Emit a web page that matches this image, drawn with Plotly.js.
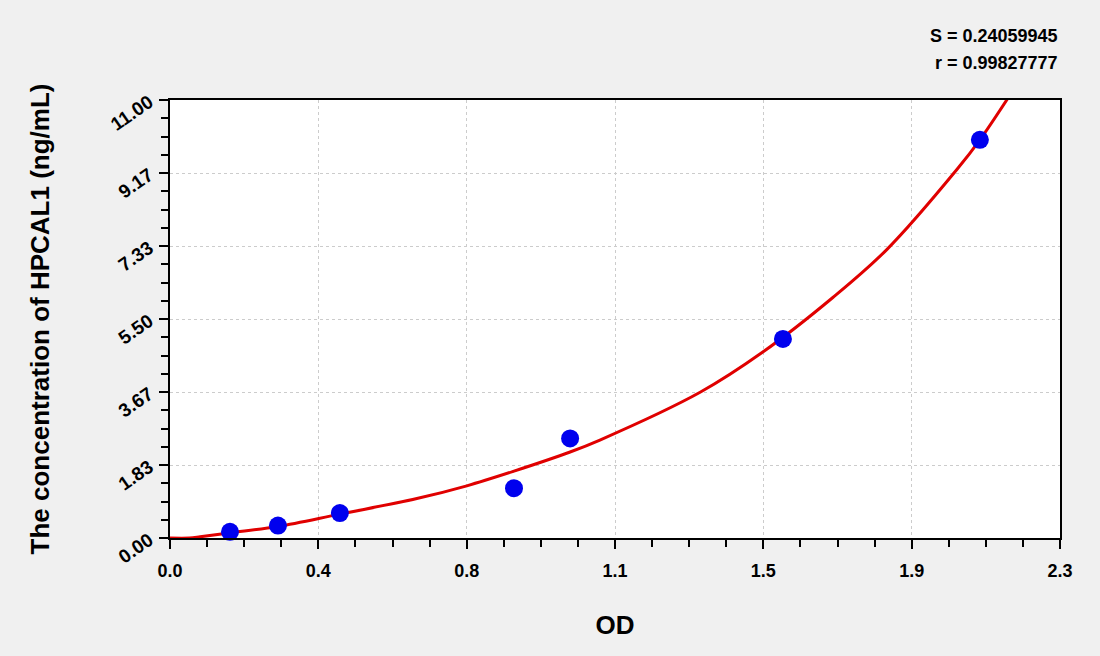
<!DOCTYPE html>
<html>
<head>
<meta charset="utf-8">
<script src="https://cdn.plot.ly/plotly-3.0.1.min.js"></script>
<style>
  html, body { margin: 0; padding: 0; background: #f0f0f0; }
  #graph { width: 1100px; height: 656px; }
</style>
</head>
<body>
<div id="graph"></div>
<script>
// standard points (OD vs concentration)
var odValues = [0.155, 0.279, 0.439, 0.889, 1.034, 1.584, 2.093];
var concValues = [0.156, 0.312, 0.625, 1.25, 2.5, 5, 10];

// fitted curve
var curveX = [0, 0.05, 0.078, 0.155, 0.279, 0.439, 0.638, 0.767, 0.889, 1.034, 1.111, 1.370, 1.532, 1.713, 1.853, 2.034, 2.093, 2.171];
var curveY = [0, 0.0, 0.03, 0.13, 0.29, 0.60, 0.99, 1.31, 1.68, 2.16, 2.46, 3.66, 4.67, 6.04, 7.25, 9.26, 10.0, 11.13];

var xTickVals = [0, 0.3833, 0.7667, 1.15, 1.5333, 1.9167, 2.3];
var xTickText = ['0.0', '0.4', '0.8', '1.1', '1.5', '1.9', '2.3'];
var yTickVals = [0, 1.8333, 3.6667, 5.5, 7.3333, 9.1667, 11];
var yTickText = ['0.00', '1.83', '3.67', '5.50', '7.33', '9.17', '11.00'];

var statS = 'S = 0.24059945';
var statR = 'r = 0.99827777';

var fontFam = 'Arial, "Liberation Sans", sans-serif';

var curve = {
    x: curveX,
    y: curveY,
    type: 'scatter',
    mode: 'lines',
    line: { color: '#e00000', width: 3, shape: 'spline', smoothing: 1 },
    hoverinfo: 'skip'
};
var points = {
    x: odValues,
    y: concValues,
    type: 'scatter',
    mode: 'markers',
    marker: { color: '#0000ee', size: 18 },
    cliponaxis: false
};

var axisCommon = {
    showline: true,
    linecolor: '#000000',
    linewidth: 2,
    mirror: true,
    ticks: 'outside',
    ticklen: 9,
    tickwidth: 2,
    tickcolor: '#000000',
    showgrid: true,
    gridcolor: '#cccccc',
    gridwidth: 1,
    griddash: 'dot',
    zeroline: false,
    tickmode: 'array'
};

var layout = {
    width: 1100,
    height: 656,
    margin: { l: 170, r: 40, t: 100, b: 118 },
    paper_bgcolor: '#f0f0f0',
    plot_bgcolor: '#ffffff',
    showlegend: false,
    font: { family: fontFam, color: '#000000' },
    xaxis: Object.assign({}, axisCommon, {
        range: [0, 2.3],
        tickvals: xTickVals,
        ticktext: xTickText,
        tickfont: { size: 18, weight: 'bold' },
        ticklabelstandoff: 6,
        minor: { tickmode: 'linear', tick0: 0, dtick: 2.3 / 24, ticks: 'outside', ticklen: 7, tickwidth: 2, tickcolor: '#000000', showgrid: false },
        title: { text: 'OD', font: { size: 26, weight: 'bold' }, standoff: 36 }
    }),
    yaxis: Object.assign({}, axisCommon, {
        range: [0, 11],
        tickvals: yTickVals,
        ticktext: yTickText,
        tickangle: -35,
        tickfont: { size: 19, weight: 'bold' },
        ticklabelstandoff: 6,
        minor: { tickmode: 'linear', tick0: 0, dtick: 11 / 24, ticks: 'outside', ticklen: 7, tickwidth: 2, tickcolor: '#000000', showgrid: false },
        title: { text: 'The concentration of HPCAL1 (ng/mL)', font: { size: 26, weight: 'bold' }, standoff: 50 }
    }),
    annotations: [
        { text: statS, xref: 'paper', yref: 'paper', x: 1, y: 1, xanchor: 'right', yanchor: 'bottom', yshift: 52, showarrow: false, font: { size: 18, weight: 'bold' } },
        { text: statR, xref: 'paper', yref: 'paper', x: 1, y: 1, xanchor: 'right', yanchor: 'bottom', yshift: 25, showarrow: false, font: { size: 18, weight: 'bold' } }
    ]
};

Plotly.newPlot('graph', [curve, points], layout, { displayModeBar: false, staticPlot: true });
</script>
</body>
</html>
